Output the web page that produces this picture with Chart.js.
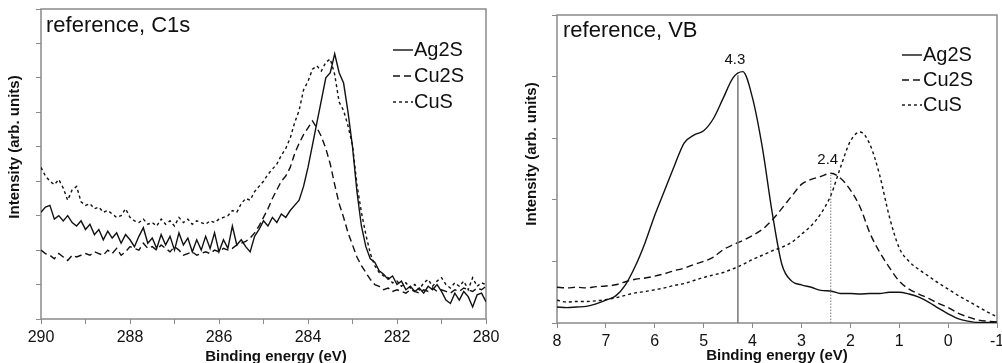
<!DOCTYPE html>
<html>
<head>
<meta charset="utf-8">
<script src="https://cdn.jsdelivr.net/npm/chart.js@4.4.1/dist/chart.umd.min.js"></script>
<style>
  html, body { margin: 0; padding: 0; background: #fff; }
  #wrap { position: relative; width: 1002px; height: 363px; overflow: hidden; }
  canvas { position: absolute; top: 0; }
  #c1s { left: 0; }
  #vb { left: 500px; }
</style>
</head>
<body>
<div id="wrap">
  <canvas id="c1s" width="500" height="363"></canvas>
  <canvas id="vb" width="502" height="363"></canvas>
</div>
<script>
// ---- data ----
const SERIES_NAMES = ['Ag2S', 'Cu2S', 'CuS'];

// C1s panel, binding energy in eV (axis runs 290 -> 280)
const C1S_ENERGY = [
  290.0, 289.9, 289.8, 289.7, 289.6, 289.5, 289.4, 289.3, 289.2, 289.1,
  289.0, 288.9, 288.8, 288.7, 288.6, 288.5, 288.4, 288.3, 288.2, 288.1,
  288.0, 287.9, 287.8, 287.7, 287.6, 287.5, 287.4, 287.3, 287.2, 287.1,
  287.0, 286.9, 286.8, 286.7, 286.6, 286.5, 286.4, 286.3, 286.2, 286.1,
  286.0, 285.9, 285.8, 285.7, 285.6, 285.5, 285.4, 285.3, 285.2, 285.1,
  285.0, 284.9, 284.8, 284.7, 284.6, 284.5, 284.4, 284.3, 284.2, 284.1,
  284.0, 283.9, 283.8, 283.7, 283.6, 283.5, 283.4, 283.3, 283.2, 283.1,
  283.0, 282.9, 282.8, 282.7, 282.6, 282.5, 282.4, 282.3, 282.2, 282.1,
  282.0, 281.9, 281.8, 281.7, 281.6, 281.5, 281.4, 281.3, 281.2, 281.1,
  281.0, 280.9, 280.8, 280.7, 280.6, 280.5, 280.4, 280.3, 280.2, 280.1,
  280.0
];
const C1S_AG2S = [
  3.10, 3.25, 3.30, 2.90, 3.00, 2.85, 3.00, 2.80, 2.70, 2.85,
  2.60, 2.75, 2.45, 2.60, 2.30, 2.55, 2.35, 2.50, 2.20, 2.45,
  2.30, 2.10, 2.40, 2.65, 2.20, 2.35, 2.05, 2.45, 2.15, 2.40,
  2.00, 2.50, 2.15, 2.35, 1.95, 2.30, 2.00, 2.40, 2.05, 2.50,
  1.95, 2.30, 2.05, 2.70, 2.15, 2.30, 2.10, 1.95, 2.40, 2.60,
  2.85, 2.70, 2.95, 2.80, 3.05, 2.95, 3.15, 3.30, 3.45, 3.85,
  4.40, 5.05, 5.70, 6.35, 7.00, 7.15, 7.70, 7.15, 6.85, 6.00,
  5.00, 3.70, 2.70, 2.10, 1.75, 1.65, 1.40, 1.30, 1.15, 1.25,
  1.00, 1.10, 0.85, 0.95, 0.80, 0.90, 0.75, 0.95, 0.85, 1.00,
  0.80, 0.55, 0.45, 0.75, 0.55, 0.80, 0.65, 0.35, 0.70, 0.75,
  0.50
];
const C1S_CU2S = [
  2.00, 1.90, 1.85, 1.75, 1.90, 1.80, 1.70, 1.85, 1.80, 1.85,
  1.90, 1.85, 1.95, 1.90, 1.85, 2.00, 1.90, 2.05, 1.85, 1.95,
  2.10, 2.05, 2.00, 2.20, 2.05, 2.10, 2.00, 2.15, 2.05, 1.95,
  2.10, 2.00, 1.85, 1.90, 1.95, 1.85, 1.90, 1.95, 1.90, 2.00,
  1.95, 2.05, 2.00, 2.05, 2.15, 2.20, 2.25, 2.35, 2.50, 2.70,
  2.95, 3.20, 3.50, 3.75, 4.00, 4.15, 4.40, 4.80, 5.10, 5.35,
  5.55, 5.75, 5.55, 5.30, 4.95, 4.50, 3.90, 3.35, 2.95, 2.50,
  2.15, 1.80, 1.55, 1.35, 1.15, 1.00, 0.95, 0.85, 0.90, 0.80,
  0.85, 0.80, 0.75, 0.85, 0.80, 0.75, 0.85, 0.80, 0.90, 0.80,
  0.85, 0.80, 0.75, 0.85, 0.80, 0.90, 0.85, 0.80, 0.90, 0.85,
  0.95
];
const C1S_CUS = [
  4.40, 4.15, 4.00, 3.90, 4.05, 3.80, 3.45, 3.75, 3.85, 3.40,
  3.30, 3.35, 3.20, 3.25, 3.10, 3.15, 3.05, 2.95, 3.00, 3.20,
  2.95, 2.85, 2.80, 2.90, 2.75, 2.80, 2.70, 2.90, 2.75, 2.85,
  2.70, 2.95, 2.80, 2.90, 2.75, 2.85, 2.80, 2.75, 2.85, 2.80,
  2.90, 2.95, 3.00, 3.15, 3.10, 3.35, 3.50, 3.45, 3.70, 3.85,
  4.00, 4.20, 4.35, 4.50, 4.75, 4.95, 5.25, 5.70, 6.05, 6.65,
  6.90, 7.25, 7.35, 7.20, 7.45, 7.55, 7.10, 6.30, 6.05, 5.60,
  5.05, 3.90, 3.10, 2.45, 1.90, 1.55, 1.35, 1.25, 1.20, 1.05,
  1.10, 0.95, 1.05, 0.90, 1.00, 0.85, 1.05, 1.15, 0.95, 1.10,
  1.20, 1.00, 0.90, 1.05, 0.95, 1.10, 0.85, 1.20, 0.95, 1.05,
  1.00
];
const C1S_TICK_LABELS = [290, 288, 286, 284, 282, 280];

// VB panel, binding energy in eV (axis runs 8 -> -1)
const VB_ENERGY = [
  8.0, 7.8, 7.6, 7.4, 7.2, 7.0, 6.8, 6.6, 6.4, 6.2,
  6.0, 5.8, 5.6, 5.4, 5.2, 5.0, 4.8, 4.6, 4.4, 4.2,
  4.0, 3.8, 3.6, 3.4, 3.2, 3.0, 2.8, 2.6, 2.4, 2.2,
  2.0, 1.8, 1.6, 1.4, 1.2, 1.0, 0.8, 0.6, 0.4, 0.2,
  0.0, -0.2, -0.4, -0.6, -0.8, -1.0
];
const VB_AG2S = [
  0.26, 0.25, 0.26, 0.27, 0.31, 0.37, 0.44, 0.62, 0.92, 1.30,
  1.75, 2.15, 2.55, 2.92, 3.05, 3.12, 3.32, 3.65, 3.98, 4.08,
  3.65, 2.85, 1.80, 0.95, 0.68, 0.62, 0.58, 0.53, 0.52, 0.48,
  0.48, 0.47, 0.48, 0.48, 0.50, 0.50, 0.47, 0.42, 0.34, 0.24,
  0.15, 0.07, 0.03, 0.01, 0.01, 0.00
];
const VB_CU2S = [
  0.58, 0.57, 0.58, 0.57, 0.59, 0.60, 0.62, 0.67, 0.71, 0.73,
  0.76, 0.80, 0.85, 0.89, 0.95, 1.00, 1.07, 1.19, 1.27, 1.34,
  1.42, 1.52, 1.67, 1.86, 2.06, 2.25, 2.33, 2.38, 2.43, 2.35,
  2.16, 1.88, 1.46, 1.15, 0.90, 0.68, 0.55, 0.47, 0.40, 0.32,
  0.25, 0.16, 0.10, 0.05, 0.03, 0.02
];
const VB_CUS = [
  0.37, 0.34, 0.35, 0.35, 0.36, 0.38, 0.41, 0.45, 0.49, 0.51,
  0.54, 0.57, 0.61, 0.64, 0.69, 0.74, 0.78, 0.82, 0.88, 0.95,
  1.03, 1.10, 1.17, 1.23, 1.31, 1.44, 1.58, 1.78, 2.07, 2.53,
  2.95, 3.10, 2.90, 2.40, 1.72, 1.22, 1.00, 0.87, 0.76, 0.65,
  0.55, 0.45, 0.36, 0.27, 0.18, 0.10
];
const VB_PEAK_POS = [4.3, 2.4];
const VB_PEAK_TOP = [4.02, 2.40];
const VB_PEAK_LABELS = ['4.3', '2.4'];

// ---- drawing ----
const FONT = '"Liberation Sans", Arial, sans-serif';
const INK = '#111';
const FRAME = '#8a8a8a';
const DASHES = [[], [7, 4], [3, 3]];

// frame, titles, legend and peak labels drawn on top of the chart
const decor = {
  id: 'decor',
  beforeDatasetsDraw(chart, args, o) {
    const { ctx, chartArea: a } = chart;
    ctx.save();
    ctx.strokeStyle = FRAME;
    ctx.lineWidth = 1.5;
    ctx.strokeRect(a.left, a.top, a.right - a.left, a.bottom - a.top);
    ctx.restore();
  },
  afterDraw(chart, args, o) {
    const ctx = chart.ctx;
    ctx.save();
    ctx.fillStyle = INK;

    ctx.font = '22px ' + FONT;
    ctx.textAlign = 'left';
    ctx.textBaseline = 'alphabetic';
    ctx.fillText(o.title.text, o.title.x, o.title.y);

    ctx.font = 'bold 15px ' + FONT;
    ctx.textAlign = 'center';
    ctx.textBaseline = 'middle';
    ctx.fillText(o.xTitle.text, o.xTitle.x, o.xTitle.y);

    ctx.save();
    ctx.translate(o.yTitle.x, o.yTitle.y);
    ctx.rotate(-Math.PI / 2);
    ctx.font = 'bold 15px ' + FONT;
    ctx.fillText(o.yTitle.text, 0, 0);
    ctx.restore();

    // legend: short line sample + name
    ctx.font = '20px ' + FONT;
    ctx.textAlign = 'left';
    ctx.textBaseline = 'middle';
    chart.data.datasets.filter((d) => d.inLegend).forEach((d, i) => {
      const y = o.legend.y + i * o.legend.gap;
      ctx.beginPath();
      ctx.setLineDash(d.borderDash);
      ctx.lineWidth = 1.4;
      ctx.strokeStyle = d.borderColor;
      ctx.moveTo(o.legend.x, y);
      ctx.lineTo(o.legend.x + 20, y);
      ctx.stroke();
      ctx.setLineDash([]);
      ctx.fillText(d.label, o.legend.x + 21, y);
    });

    if (o.peaks) {
      const xs = chart.scales.x;
      const ys = chart.scales.y;
      ctx.font = '15px ' + FONT;
      ctx.textAlign = 'center';
      ctx.textBaseline = 'alphabetic';
      o.peaks.forEach((p) => {
        ctx.fillText(p.label, xs.getPixelForValue(p.x) - 3, ys.getPixelForValue(p.y) - 11);
      });
    }
    ctx.restore();
  },
};

function toPoints(xs, ys) {
  return xs.map((x, i) => ({ x, y: ys[i] }));
}

function seriesSets(energy, lists, smooth) {
  return lists.map((vals, i) => ({
    label: SERIES_NAMES[i],
    data: toPoints(energy, vals),
    inLegend: true,
    borderColor: INK,
    borderWidth: 1.4,
    borderDash: DASHES[i],
    pointRadius: 0,
    fill: false,
    cubicInterpolationMode: smooth ? 'monotone' : 'default',
    tension: 0,
  }));
}

function makeChart(canvas, cfg) {
  return new Chart(canvas, {
    type: 'line',
    data: { datasets: cfg.datasets },
    options: {
      responsive: false,
      animation: false,
      devicePixelRatio: 1,
      layout: { padding: cfg.padding },
      scales: {
        x: {
          type: 'linear',
          reverse: true,
          min: cfg.xMin,
          max: cfg.xMax,
          ticks: {
            stepSize: 1,
            autoSkip: false,
            maxRotation: 0,
            padding: 4,
            color: INK,
            font: { size: 16, family: FONT },
            callback: cfg.tickLabel,
          },
          grid: { drawOnChartArea: false, tickLength: 5, color: FRAME },
          border: { display: false },
          afterFit(s) {
            s.height = cfg.xHeight;
            s.paddingLeft = 0;
            s.paddingRight = 0;
          },
        },
        y: {
          min: 0,
          max: cfg.yMax,
          ticks: { stepSize: 1, display: false },
          grid: { drawOnChartArea: false, tickLength: 5, color: FRAME },
          border: { display: false },
          afterFit(s) {
            s.width = cfg.yWidth;
          },
        },
      },
      plugins: {
        legend: { display: false },
        tooltip: { enabled: false },
        decor: cfg.decor,
      },
    },
    plugins: [decor],
  });
}

// C1s
makeChart(document.getElementById('c1s'), {
  datasets: seriesSets(C1S_ENERGY, [C1S_AG2S, C1S_CU2S, C1S_CUS], false),
  xMin: 280, xMax: 290, yMax: 9,
  tickLabel: (v) => (C1S_TICK_LABELS.includes(v) ? v : ''),
  padding: { left: 0, top: 9, right: 14, bottom: 0 },
  xHeight: 44, yWidth: 41,
  decor: {
    title: { text: 'reference, C1s', x: 46, y: 32 },
    xTitle: { text: 'Binding energy (eV)', x: 276, y: 357 },
    yTitle: { text: 'Intensity (arb. units)', x: 15, y: 147 },
    legend: { x: 393, y: 50, gap: 26 },
  },
});

// VB: peak marker lines first so the spectra sit above them
const vbMarkers = VB_PEAK_POS.map((x, i) => ({
  label: 'peak ' + VB_PEAK_LABELS[i],
  data: [{ x, y: 0 }, { x, y: VB_PEAK_TOP[i] }],
  inLegend: false,
  borderColor: '#777',
  borderWidth: i === 0 ? 1.5 : 1,
  borderDash: i === 0 ? [] : [1.5, 1.5],
  pointRadius: 0,
  fill: false,
}));

makeChart(document.getElementById('vb'), {
  datasets: vbMarkers.concat(seriesSets(VB_ENERGY, [VB_AG2S, VB_CU2S, VB_CUS], true)),
  xMin: -1, xMax: 8, yMax: 5,
  tickLabel: (v) => v,
  padding: { left: 0, top: 15, right: 5, bottom: 0 },
  xHeight: 40, yWidth: 57,
  decor: {
    title: { text: 'reference, VB', x: 63, y: 37 },
    xTitle: { text: 'Binding energy (eV)', x: 277, y: 356 },
    yTitle: { text: 'Intensity (arb. units)', x: 32, y: 154 },
    legend: { x: 402, y: 55, gap: 25 },
    peaks: VB_PEAK_POS.map((x, i) => ({ x, y: VB_PEAK_TOP[i], label: VB_PEAK_LABELS[i] })),
  },
});
</script>
</body>
</html>
